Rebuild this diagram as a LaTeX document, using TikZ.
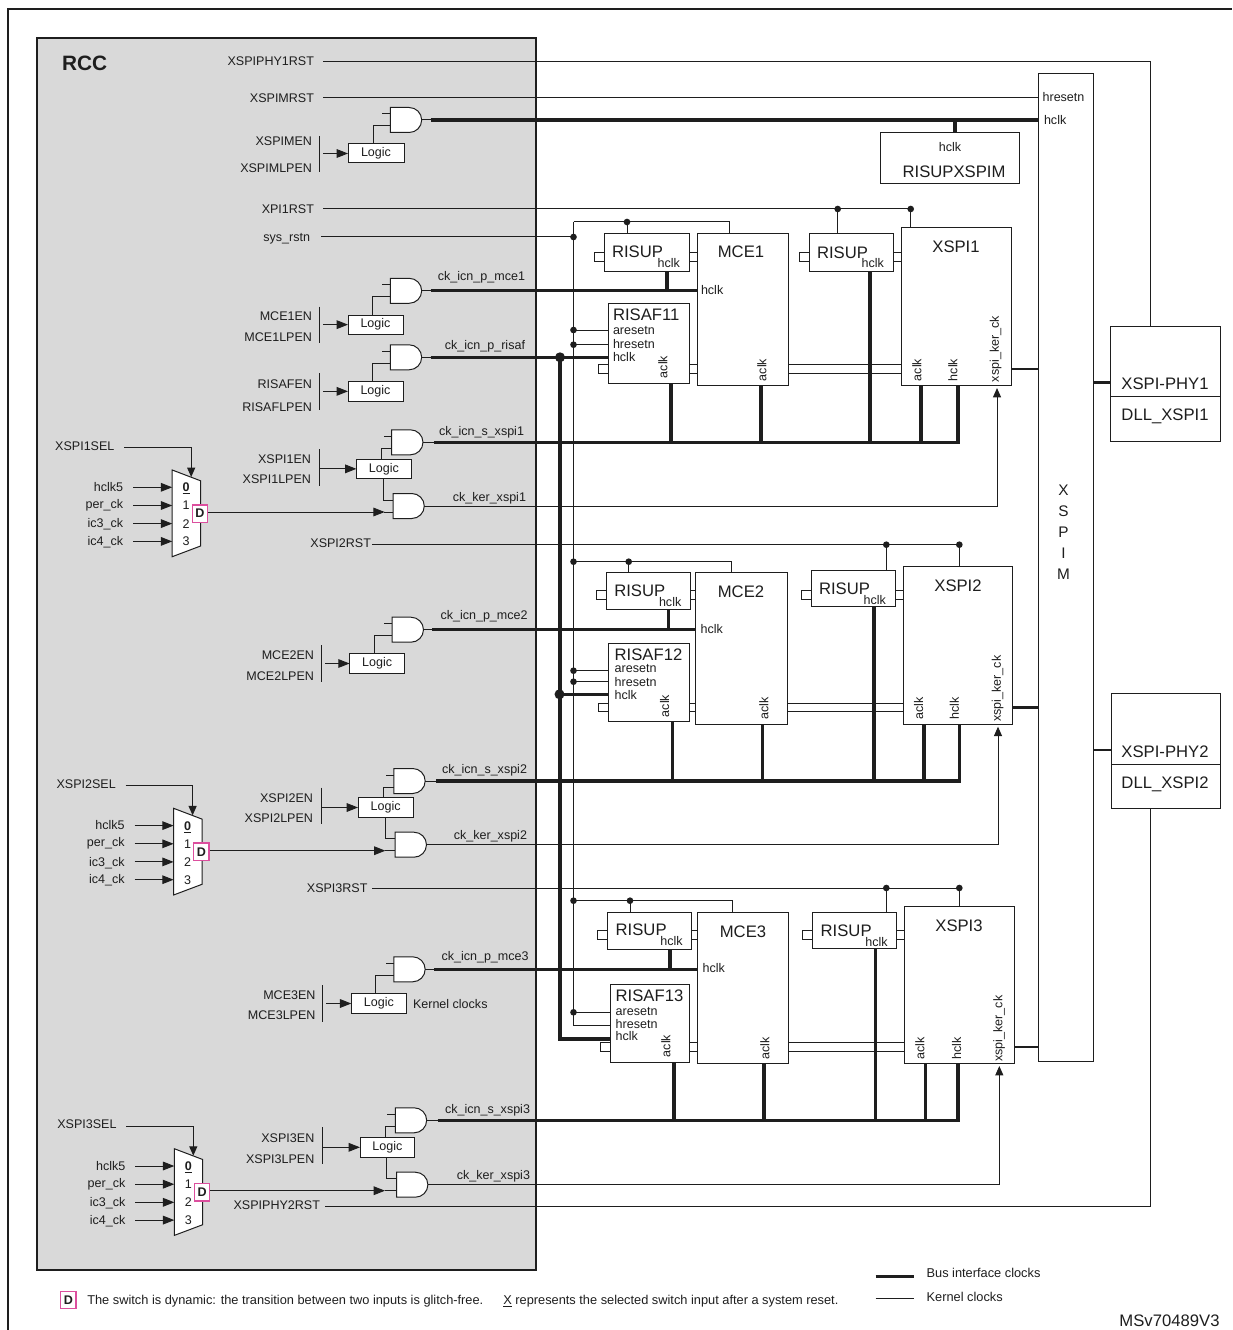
\documentclass[tikz,border=0pt]{standalone}
\usepackage{fontspec}
\setmainfont{Liberation Sans}
\usetikzlibrary{arrows.meta,shapes.gates.logic.US}
\definecolor{lnc}{HTML}{1E1E1E}
\definecolor{rccg}{HTML}{D9D9D9}
\definecolor{pinkc}{HTML}{DC4F9E}
\newcounter{tl}
\tikzset{
  wire/.style={draw=lnc,line width=0.75pt},
  bus/.style={draw=lnc,line width=2.5pt},
  tipa/.style={-{Triangle[length=8.5pt,width=6.5pt]}},
  tipb/.style={-{Triangle[length=7pt,width=6pt]}},
  boxn/.style={draw=lnc,fill=white,line width=0.75pt,inner sep=0pt,outer sep=0pt},
  lbl/.style={inner sep=0pt,outer sep=0pt,text=lnc,font=\fontsize{9.4}{11}\selectfont},
  bigt/.style={font=\fontsize{12.5}{15}\selectfont,yshift=-1.6pt},
  legt/.style={font=\fontsize{9.6}{11}\selectfont},
  lr/.style={anchor=mid east},
  ll/.style={anchor=mid west},
  lc/.style={anchor=mid},
  rot/.style={rotate=90,anchor=center},
  dotn/.style={circle,fill=lnc,inner sep=0pt,minimum size=5pt},
  bigdot/.style={circle,fill=lnc,inner sep=0pt,minimum size=7.5pt},
  gaten/.style={and gate US,draw=lnc,fill=white,line width=0.75pt,logic gate inputs=nn,
    logic gate input sep=6.25pt,inner sep=0pt,outer sep=0pt},
  dboxn/.style={draw=pinkc,fill=white,line width=1pt,inner sep=0pt,minimum width=11.5pt,minimum height=13pt,text=lnc,font=\fontsize{9.4}{11}\selectfont\bfseries}
}
\newcommand\lab[4][]{\stepcounter{tl}\node[lbl,yshift=-0.7pt,#1] (t\arabic{tl}) at (#2,#3) {#4};}
\newcommand\dotm[3][dotn]{\stepcounter{tl}\node[#1] (t\arabic{tl}) at (#2,#3) {};}
\newcommand\blk[7][]{\pgfmathsetlengthmacro\bwd{(#5-#3)*0.75}\pgfmathsetlengthmacro\bht{(#6-#4)*0.75}%
  \node[boxn,lbl,minimum width=\bwd,minimum height=\bht,anchor=north west,#1] (#2) at (#3,#4) {#7};}
\newcommand\gatem[3]{\node[gaten] (#1) at (#2,#3) {};
  \coordinate (#1a) at ([yshift=4.5pt]#1.west); \coordinate (#1b) at ([yshift=-4.5pt]#1.west);}
% left stub of a block: open rectangle
\newcommand\stubl[3]{\draw[wire] (#1.west |- 0,#2) -- ++(-10,0) -- ++(0,#3-#2) -- (#1.west |- 0,#3);}
% pair of lines between two blocks
\newcommand\pairl[4]{\draw[wire] (#1.east |- 0,#3) -- (#2.west |- 0,#3); \draw[wire] (#1.east |- 0,#4) -- (#2.west |- 0,#4);}
% multiplexer: name, x1, ytop, select name, D box
\newcommand\muxm[4]{%
  \pgfmathsetmacro\mqa{#2+28.4}\pgfmathsetmacro\mqb{#3+10.8}\pgfmathsetmacro\mqc{#3+76}\pgfmathsetmacro\mqd{#3+86.7}
  \pgfmathsetmacro\selx{#2-117}\pgfmathsetmacro\sely{#3-24.3}\pgfmathsetmacro\sell{#3-22.7}\pgfmathsetmacro\sela{#2-48}\pgfmathsetmacro\selb{#2+19}\pgfmathsetmacro\selt{#3+7}
  \draw[wire,fill=white] (#2,#3) -- (\mqa,\mqb) -- (\mqa,\mqc) -- (#2,\mqd) -- cycle;
  \lab[ll]{\selx}{\sely}{#4}
  \coordinate (#1s) at (\sela,\sell); \coordinate (#1t) at (\selb,\selt);
  \draw[wire,tipb] (#1s) -| (#1t);
  \foreach \tx/\ty/\ly/\dg in {hclk5/17.3/17/{\underline{\textbf{0}}},per\_ck/35.5/34/1,ic3\_ck/53.6/53.5/2,ic4\_ck/71.4/71/3}{
    \pgfmathsetmacro\py{#3+\ty}\pgfmathsetmacro\qy{#3+\ly}\pgfmathsetmacro\qx{#2-49}\pgfmathsetmacro\rxx{#2-39}\pgfmathsetmacro\dxx{#2+14}
    \lab[lr]{\qx}{\qy}{\tx}
    \draw[wire,tipa] (\rxx,\py) -- (#2,\py);
    \lab[lc]{\dxx}{\py}{\dg}
  }
  \pgfmathsetmacro\dcx{#2+27.8}\pgfmathsetmacro\dcy{#3+43.5}
  \node[dboxn] (#1d) at (\dcx,\dcy) {D};
}
% one XSPI block, parameters set by \def beforehand
\newcommand\xblock{%
  \blk{ris\bN}{\Rx}{\Rt}{\Rxx}{\Rb}{}
  \blk{mce\bN}{\Mx}{\Mt}{\Mxx}{\Mb}{}
  \blk{saf\bN}{\Sx}{\St}{\Sxx}{\Sb}{}
  \blk{rsq\bN}{\Qx}{\Qt}{\Qxx}{\Qb}{}
  \blk{xsp\bN}{\Xx}{\Xt}{\Xxx}{\Xb}{}
  \stubl{ris\bN}{\ra}{\rb}
  \stubl{rsq\bN}{\ra}{\rb}
  \stubl{saf\bN}{\za}{\zb}
  \pairl{ris\bN}{mce\bN}{\ra}{\rb}
  \pairl{rsq\bN}{xsp\bN}{\ra}{\rb}
  \pairl{saf\bN}{mce\bN}{\za}{\zb}
  \pairl{mce\bN}{xsp\bN}{\za}{\zb}
  % texts
  \pgfmathsetmacro\tqa{\Rx+8}\pgfmathsetmacro\tqb{\Rt+17}\pgfmathsetmacro\tqc{\Rxx-9}\pgfmathsetmacro\tqd{\Rt+29}
  \lab[ll,bigt]{\tqa}{\tqb}{RISUP}\lab[lr]{\tqc}{\tqd}{hclk}
  \pgfmathsetmacro\tqa{\Qx+8}\pgfmathsetmacro\tqb{\Qt+18}\pgfmathsetmacro\tqc{\Qxx-9}\pgfmathsetmacro\tqd{\Qt+29.5}
  \lab[ll,bigt]{\tqa}{\tqb}{RISUP}\lab[lr]{\tqc}{\tqd}{hclk}
  \lab[lc,bigt]{\Mtx}{\Mty}{MCE\bN}
  \lab[lc,bigt]{\Xtx}{\Xty}{XSPI\bN}
  \lab[ll]{\Mhx}{\Mhy}{hclk}
  \lab[rot]{\Mcx}{\Mcy}{aclk}
  \lab[rot]{\Scx}{\Scy}{aclk}
  \lab[rot]{\Xax}{\Mcy}{aclk}
  \lab[rot]{\Xhx}{\Mcy}{hclk}
  \lab[rot]{\Xkx}{\Xky}{xspi\_ker\_ck}
  \lab[ll,bigt]{\Stx}{\Sty}{RISAF\Snm}
  \lab[ll]{\Stx}{\Sta}{aresetn}
  \lab[ll]{\Stx}{\Stb}{hresetn}
  \lab[ll]{\Stx}{\Stc}{hclk}
  % resets
  \draw[wire] (rst\bN) -- (\dB,\rstY) -- (\dB,0 |- xsp\bN.north);
  \dotm{\dA}{\rstY}\dotm{\dB}{\rstY}
  \draw[wire] (\dA,\rstY) -- (\dA,0 |- rsq\bN.north);
  \draw[wire] (573.5,\rowY) -- (\rowE,\rowY) -- (\rowE,0 |- mce\bN.north);
  \dotm{\dC}{\rowY}
  \draw[wire] (\dC,\rowY) -- (\dC,0 |- ris\bN.north);
  \draw[wire] (573.5,\yAr) -- (saf\bN.west |- 0,\yAr);
  \draw[wire] (573.5,\yHr) -- (saf\bN.west |- 0,\yHr);
  % bus clocks
  \draw[bus] (\Rh,0 |- ris\bN.south) -- (\Rh,0 |- am\bN.output);
  \draw[wire] (am\bN.output) -- ++(9,0);
  \draw[bus] ([xshift=6.75pt]am\bN.output) -- (mce\bN.west |- am\bN.output);
  \draw[wire] (as\bN.output) -- ++(11,0);
  \draw[bus] ([xshift=8.25pt]as\bN.output) -| (\Xh,0 |- xsp\bN.south);
  \draw[bus] (\Sa,0 |- saf\bN.south) -- (\Sa,0 |- as\bN.output);
  \draw[bus] (\Ma,0 |- mce\bN.south) -- (\Ma,0 |- as\bN.output);
  \draw[bus] (\Qh,0 |- rsq\bN.south) -- (\Qh,0 |- as\bN.output);
  \draw[bus] (\Xa,0 |- xsp\bN.south) -- (\Xa,0 |- as\bN.output);
  % kernel clock
  \coordinate (ktip\bN) at (\Kx,\Kt);
  \draw[wire,tipb] (ak\bN.output) -| (ktip\bN);
  % output to XSPIM
  \draw[bus,line width=2pt] (xsp\bN.east |- 0,\oY) -- (xspim.west |- 0,\oY);
}
\begin{document}
\begin{tikzpicture}[x=0.75pt,y=-0.75pt]
\useasboundingbox (0,0) rectangle (1232,1330);
% outer frame
\coordinate (fa) at (8,1330); \coordinate (fb) at (8,9); \coordinate (fc) at (1232,9);
\draw[lnc,line width=1.5pt] (fa) -- (fb) -- (fc);
% RCC
\node[fill=rccg,draw=lnc,line width=1.4pt,inner sep=0pt,anchor=north west,minimum width=374.2pt,minimum height=924pt] (rcc) at (36,37) {};
\lab[ll,font=\fontsize{15.6}{18}\selectfont\bfseries]{62}{66}{RCC}
% right side blocks
\blk{xspim}{1038.3}{73.3}{1093.3}{1061.7}{}
\blk{risx}{880}{132.3}{1019.3}{183.7}{}
\blk{phya}{1110.7}{326}{1220.3}{441.3}{}
\blk{phyb}{1111}{693.3}{1220.3}{808.7}{}
\coordinate (pa1) at (phya.west |- 0,396.7); \coordinate (pa2) at (phya.east |- 0,396.7);
\coordinate (pb1) at (phyb.west |- 0,764); \coordinate (pb2) at (phyb.east |- 0,764);
\draw[wire] (pa1) -- (pa2); \draw[wire] (pb1) -- (pb2);
\lab[lc]{1063.5}{97}{hresetn}
\lab[ll]{1044}{120}{hclk}
\lab[lc]{950}{147}{hclk}
\lab[lc,bigt]{954}{171}{RISUPXSPIM}
\foreach \ch/\yy in {X/490,S/511,P/532,I/553,M/574}{\lab[lc,font=\fontsize{11.5}{13}\selectfont,yshift=-1pt]{1063.5}{\yy}{\ch}}
\lab[lc,bigt]{1165}{383}{XSPI-PHY1}\lab[lc,bigt]{1165}{414}{DLL\_XSPI1}
\lab[lc,bigt]{1165}{751}{XSPI-PHY2}\lab[lc,bigt]{1165}{782}{DLL\_XSPI2}
\lab[lc,bigt]{1169.5}{1319.5}{MSv70489V3}
% top left group
\lab[lr]{314}{61}{XSPIPHY1RST}
\lab[lr]{314}{98}{XSPIMRST}
\lab[lr]{314}{209}{XPI1RST}
\lab[lr]{310}{237.5}{sys\_rstn}
\coordinate (rphy1) at (323,61.7); \coordinate (rm) at (323,98); \coordinate (rst1) at (323,209); \coordinate (rsys) at (321,237);
\coordinate (rst2) at (372,544.7); \coordinate (rst3) at (372,888); \coordinate (rphy2) at (325,1206);
\lab[lr]{371}{543}{XSPI2RST}
\lab[lr]{367.5}{887.7}{XSPI3RST}
\lab[lr]{320}{1205}{XSPIPHY2RST}
\draw[wire] (rphy1) -| (1150.3,0 |- phya.north);
\draw[wire] (rphy2) -| (1150.3,0 |- phyb.south);
\draw[wire] (rm) -- (xspim.west |- rm);
\draw[wire] (rsys) -- (573.5,237);
\dotm{573.5}{237}
% gates
\gatem{g0}{405}{120}
\gatem{am1}{405}{290.8}\gatem{ar}{405}{357.3}\gatem{as1}{406.3}{442.3}\gatem{ak1}{407.6}{506}
\gatem{am2}{406.8}{629.7}\gatem{as2}{408.5}{781}\gatem{ak2}{409.8}{844.7}
\gatem{am3}{408.5}{969.3}\gatem{as3}{410}{1120.3}\gatem{ak3}{411.2}{1184.7}
% logic boxes
\blk{l0}{348}{144}{404}{163}{Logic}
\blk{lm1}{348}{315}{403}{334.3}{Logic}
\blk{lr0}{348}{381.7}{403}{401}{Logic}
\blk{ls1}{356.4}{459}{411.5}{478.7}{Logic}
\blk{lm2}{349.6}{653.7}{404.8}{673.3}{Logic}
\blk{ls2}{358}{797.7}{413.3}{817.3}{Logic}
\blk{lm3}{351.3}{993.7}{406.4}{1013.3}{Logic}
\blk{ls3}{360}{1137.3}{414.7}{1157.3}{Logic}
\lab[ll]{413}{1004}{Kernel clocks}
% pins
\foreach \g in {g0,am1,ar,as1,am2,as2,am3,as3}{\draw[wire] (\g a) -- ++(-8,0);}
\draw[wire] (373,0 |- l0.north) |- (g0b);
\draw[wire] (372.6,0 |- lm1.north) |- (am1b);
\draw[wire] (372.6,0 |- lr0.north) |- (arb);
\draw[wire] (381,0 |- ls1.north) |- (as1b);
\draw[wire] (383,0 |- ls1.south) |- (ak1a);
\draw[wire] (374.4,0 |- lm2.north) |- (am2b);
\draw[wire] (383,0 |- ls2.north) |- (as2b);
\draw[wire] (385,0 |- ls2.south) |- (ak2a);
\draw[wire] (375.4,0 |- lm3.north) |- (am3b);
\draw[wire] (385,0 |- ls3.north) |- (as3b);
\draw[wire] (386.7,0 |- ls3.south) |- (ak3a);
% enable labels + bars + arrows
\lab[lr]{312}{141}{XSPIMEN}\lab[lr]{312}{168}{XSPIMLPEN}
\draw[wire] (319.5,136) -- (319.5,172); \draw[wire,tipa] (323,0 |- l0.west) -- (l0.west);
\lab[lr]{312}{316}{MCE1EN}\lab[lr]{312}{336.7}{MCE1LPEN}
\draw[wire] (319.5,306.7) -- (319.5,342.7); \draw[wire,tipa] (323,0 |- lm1.west) -- (lm1.west);
\lab[lr]{312}{383.7}{RISAFEN}\lab[lr]{312}{407.3}{RISAFLPEN}
\draw[wire] (319.5,373.3) -- (319.5,410); \draw[wire,tipa] (323,0 |- lr0.west) -- (lr0.west);
\lab[lr]{311}{459.3}{XSPI1EN}\lab[lr]{311}{479.3}{XSPI1LPEN}
\draw[wire] (319.5,449) -- (319.5,485.7); \draw[wire,tipa] (319.5,0 |- ls1.west) -- (ls1.west);
\lab[lr]{314}{655}{MCE2EN}\lab[lr]{314}{676}{MCE2LPEN}
\draw[wire] (321.3,645.3) -- (321.3,681.7); \draw[wire,tipa] (325,0 |- lm2.west) -- (lm2.west);
\lab[lr]{313}{797.7}{XSPI2EN}\lab[lr]{313}{818.3}{XSPI2LPEN}
\draw[wire] (321.3,787.7) -- (321.3,824); \draw[wire,tipa] (321.3,0 |- ls2.west) -- (ls2.west);
\lab[lr]{315.5}{995.3}{MCE3EN}\lab[lr]{315.5}{1015.3}{MCE3LPEN}
\draw[wire] (322.4,985) -- (322.4,1022); \draw[wire,tipa] (326,0 |- lm3.west) -- (lm3.west);
\lab[lr]{314.3}{1138}{XSPI3EN}\lab[lr]{314.3}{1159}{XSPI3LPEN}
\draw[wire] (322.3,1127.3) -- (322.3,1163.7); \draw[wire,tipa] (322.3,0 |- ls3.west) -- (ls3.west);
% muxes
\muxm{mxa}{172.2}{470}{XSPI1SEL}
\muxm{mxb}{173.6}{808.3}{XSPI2SEL}
\muxm{mxc}{174.3}{1148.7}{XSPI3SEL}
\draw[wire,tipa] (mxad.east |- ak1b) -- (384.7,0 |- ak1b);
\draw[wire] (384,0 |- ak1b) -- (ak1b);
\draw[wire,tipa] (mxbd.east |- ak2b) -- (385.4,0 |- ak2b);
\draw[wire] (385,0 |- ak2b) -- (ak2b);
\draw[wire,tipa] (mxcd.east |- ak3b) -- (385,0 |- ak3b);
\draw[wire] (384.5,0 |- ak3b) -- (ak3b);
% clock labels
\lab[lr]{525}{276}{ck\_icn\_p\_mce1}
\lab[lr]{525}{345.3}{ck\_icn\_p\_risaf}
\lab[lr]{524}{430.7}{ck\_icn\_s\_xspi1}
\lab[lr]{526}{496.7}{ck\_ker\_xspi1}
\lab[lr]{527.6}{615.3}{ck\_icn\_p\_mce2}
\lab[lr]{527}{769}{ck\_icn\_s\_xspi2}
\lab[lr]{527}{834.7}{ck\_ker\_xspi2}
\lab[lr]{528.6}{955.7}{ck\_icn\_p\_mce3}
\lab[lr]{530}{1109.3}{ck\_icn\_s\_xspi3}
\lab[lr]{530}{1175}{ck\_ker\_xspi3}
% top XSPIM clock
\draw[wire] (g0.output) -- ++(9,0);
\draw[bus] ([xshift=6.75pt]g0.output) -- (xspim.west |- g0.output);
\draw[bus] (955,0 |- g0.output) -- (955,0 |- risx.north);
% block 1
\def\bN{1}\def\Snm{11}
\def\Rx{604}\def\Rxx{689}\def\Rt{234}\def\Rb{271}
\def\Mx{697}\def\Mxx{788}\def\Mt{234}\def\Mb{385}
\def\Sx{608}\def\Sxx{689}\def\St{303}\def\Sb{383}
\def\Qx{809}\def\Qxx{893}\def\Qt{234}\def\Qb{271}
\def\Xx{901}\def\Xxx{1011}\def\Xt{228}\def\Xb{385}
\def\ra{252}\def\rb{261}\def\za{364.3}\def\zb{373.3}
\def\Mtx{741}\def\Mty{251}\def\Xtx{956}\def\Xty{246}\def\Mhx{701}\def\Mhy{290}
\def\Mcx{762}\def\Mcy{369}\def\Scx{663}\def\Scy{366}\def\Xax{917}\def\Xhx{953}\def\Xkx{995.7}\def\Xky{348}
\def\Stx{613}\def\Sty{314}\def\Sta{330}\def\Stb{344}\def\Stc{357}
\def\rstY{209}\def\dA{837.7}\def\dB{910.7}\def\rowY{222}\def\rowE{729}\def\dC{627}
\def\yAr{330}\def\yHr{344.7}
\def\Rh{667}\def\Sa{671}\def\Ma{761}\def\Qh{870}\def\Xa{921}\def\Xh{958}
\def\Kx{997}\def\Kt{388}\def\oY{369}
\xblock
% block 2
\def\bN{2}\def\Snm{12}
\def\Rx{606.3}\def\Rxx{690.3}\def\Rt{572.7}\def\Rb{609.7}
\def\Mx{695.7}\def\Mxx{787}\def\Mt{572.7}\def\Mb{724}
\def\Sx{608.7}\def\Sxx{689.3}\def\St{643.3}\def\Sb{721.7}
\def\Qx{811}\def\Qxx{895}\def\Qt{570.3}\def\Qb{606.7}
\def\Xx{903}\def\Xxx{1012.7}\def\Xt{566.3}\def\Xb{724}
\def\ra{590.7}\def\rb{599.3}\def\za{703}\def\zb{711.7}
\def\Mtx{741}\def\Mty{590.7}\def\Xtx{958}\def\Xty{585}\def\Mhx{700.7}\def\Mhy{629}
\def\Mcx{764}\def\Mcy{707.7}\def\Scx{664.7}\def\Scy{705}\def\Xax{918.7}\def\Xhx{954.3}\def\Xkx{997.7}\def\Xky{687.7}
\def\Stx{614.7}\def\Sty{654}\def\Sta{668}\def\Stb{682}\def\Stc{695}
\def\rstY{544.7}\def\dA{886.3}\def\dB{959.3}\def\rowY{561.7}\def\rowE{731.3}\def\dC{628.7}
\def\yAr{670.7}\def\yHr{681.7}
\def\Rh{668.3}\def\Sa{672.3}\def\Ma{762.7}\def\Qh{874}\def\Xa{924}\def\Xh{959.7}
\def\Kx{998}\def\Kt{726.7}\def\oY{707.3}
\xblock
% block 3
\def\bN{3}\def\Snm{13}
\def\Rx{607.7}\def\Rxx{691.7}\def\Rt{912.3}\def\Rb{949.3}
\def\Mx{697.3}\def\Mxx{788.7}\def\Mt{912.3}\def\Mb{1063.7}
\def\Sx{610.3}\def\Sxx{689.3}\def\St{984.3}\def\Sb{1062}
\def\Qx{812.7}\def\Qxx{896.7}\def\Qt{912.3}\def\Qb{948.7}
\def\Xx{904.3}\def\Xxx{1014.3}\def\Xt{906.3}\def\Xb{1063.7}
\def\ra{930.7}\def\rb{939.3}\def\za{1042.7}\def\zb{1051.7}
\def\Mtx{743}\def\Mty{931}\def\Xtx{959}\def\Xty{925}\def\Mhx{702.7}\def\Mhy{968}
\def\Mcx{765}\def\Mcy{1047.7}\def\Scx{666}\def\Scy{1045}\def\Xax{920}\def\Xhx{956.7}\def\Xkx{999}\def\Xky{1027.7}
\def\Stx{615.7}\def\Sty{994.7}\def\Sta{1011}\def\Stb{1024}\def\Stc{1036}
\def\rstY{888}\def\dA{886.3}\def\dB{959.3}\def\rowY{900.7}\def\rowE{732}\def\dC{630}
\def\yAr{1012.3}\def\yHr{1025}
\def\Rh{670}\def\Sa{674}\def\Ma{764}\def\Qh{875.7}\def\Xa{925.3}\def\Xh{958}
\def\Kx{999.3}\def\Kt{1066}\def\oY{1047}
\xblock
% shared risers
\coordinate (sysend) at (saf3.west |- 0,1025);
\coordinate (bigend) at (saf3.west |- 0,1039);
\draw[wire] (573.5,222) -- (573.5,1025) -- (sysend);
\dotm{573.5}{561.7}\dotm{573.5}{900.7}
\dotm{573.5}{330}\dotm{573.5}{344.7}\dotm{573.5}{670.7}\dotm{573.5}{681.7}\dotm{573.5}{1012.3}
\draw[wire] (ar.output) -- ++(9,0);
\draw[bus] ([xshift=6.75pt]ar.output) -- (saf1.west |- ar.output);
\draw[bus] (560,0 |- ar.output) -- (560,1039) -- (bigend);
\draw[bus] (560,694.3) -- (saf2.west |- 0,694.3);
\dotm[bigdot]{560}{357.3}\dotm[bigdot]{559.5}{694.3}
% XSPIM to PHY
\draw[bus,line width=2pt] (xspim.east |- 0,382.7) -- (phya.west |- 0,382.7);
\draw[bus,line width=2pt] (xspim.east |- 0,750) -- (phyb.west |- 0,750);
% legend
\node[dboxn] (dleg) at (68.3,1300) {D};
\lab[ll,legt]{87.3}{1300}{The switch is dynamic: the transition between two inputs is glitch-free.}
\lab[ll,legt]{503.3}{1300}{\underline{X} represents the selected switch input after a system reset.}
\coordinate (la1) at (875.6,1276.3); \coordinate (la2) at (914,1276.3);
\coordinate (lb1) at (875.6,1298.7); \coordinate (lb2) at (914,1298.7);
\draw[bus] (la1) -- (la2);
\draw[wire] (lb1) -- (lb2);
\lab[ll,legt]{926.6}{1272.7}{Bus interface clocks}
\lab[ll,legt]{926.6}{1296.7}{Kernel clocks}
\end{tikzpicture}
\end{document}
